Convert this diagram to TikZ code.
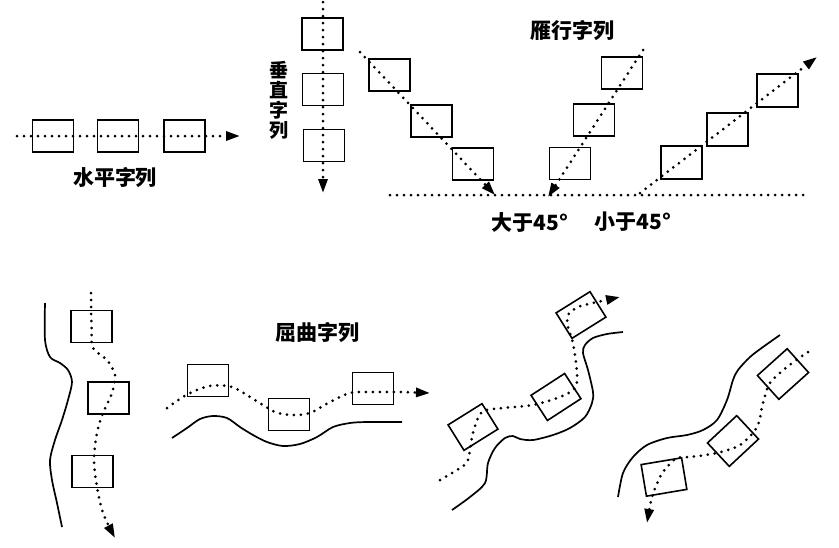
\documentclass[tikz,border=0pt]{standalone}
\usepackage{fontspec}
\newfontfamily\cjk{Noto Sans CJK SC}
\usetikzlibrary{arrows.meta}

\begin{document}
\begin{tikzpicture}[x=1pt, y=-1pt,
    box/.style={draw, line width=1.6pt, minimum width=41pt, minimum height=32pt, inner sep=0pt},
    tiltbox/.style={box, minimum width=40pt, minimum height=30pt},
    dotline/.style={line width=3pt, dash pattern=on 0pt off 7pt, line cap=round},
    pointy/.style={-{Triangle[length=14pt, width=9pt]}},
    bank/.style={line width=1.7pt},
    lbl/.style={font=\cjk\bfseries\fontsize{21}{23}\selectfont, inner sep=0pt},
  ]
  \useasboundingbox (0,0) rectangle (839,547);

  % horizontal row
  \node[box] (h1) at (53,136) {};
  \node[box] (h2) at (118,136) {};
  \node[box] (h3) at (184.5,136) {};
  \coordinate (h0) at (17,136);
  \coordinate (hend) at (240,136);
  \draw[dotline, pointy] (h0) -- (hend);
  \node[lbl] (hlabel) at (115,178) {水平字列};

  % vertical row
  \node[box] (v1) at (322.5,34) {};
  \node[box] (v2) at (323,89.5) {};
  \node[box] (v3) at (324,145.5) {};
  \coordinate (v0) at (323,2);
  \coordinate (vend) at (323,193);
  \draw[dotline, pointy] (v0) -- (vend);
  \node[lbl, align=center, font=\cjk\bfseries\fontsize{19}{20}\selectfont] (vlabel) at (279,100) {垂\\直\\字\\列};

  % echelon rows
  \node[lbl] (elabel) at (572,31) {雁行字列};
  \coordinate (base0) at (390,195);
  \coordinate (base1) at (805,195);
  \draw[dotline] (base0) -- (base1);

  \node[box] (a1) at (389.5,75) {};
  \node[box] (a2) at (431.5,121) {};
  \node[box] (a3) at (473,164) {};
  \coordinate (a0) at (360,52);
  \coordinate (aend) at (495,195);
  \draw[dotline, pointy] (a0) -- (aend);

  \node[box] (b1) at (622,73) {};
  \node[box] (b2) at (594,120) {};
  \node[box] (b3) at (570,163.5) {};
  \coordinate (b0) at (643,50);
  \coordinate (bend) at (548,197);
  \draw[dotline, pointy] (b0) -- (bend);

  \node[box, minimum height=33pt] (c1) at (681.5,162.5) {};
  \node[box, minimum height=33pt] (c2) at (727.5,129.5) {};
  \node[box, minimum height=33pt] (c3) at (777.5,90.5) {};
  \coordinate (c0) at (640,193);
  \coordinate (cend) at (817,57);
  \draw[dotline, pointy] (c0) -- (cend);

  \node[lbl] (big) at (530,222) {大于45°};
  \node[lbl] (small) at (633,222) {小于45°};

  % bent rows
  \node[lbl] (blabel) at (317,333) {屈曲字列};

  \node[box] (cb1) at (91.5,326.5) {};
  \node[box] (cb2) at (108.5,398) {};
  \node[box] (cb3) at (92.5,471.5) {};
  \draw[bank] plot[smooth] coordinates {(45,303) (45,340) (50,357) (60,363) (68,370) (72,382) (68,400) (62,420) (55,440) (50,460) (52,480) (57,503) (62,527)};
  \draw[dotline, pointy] plot[smooth] coordinates {(91,293) (cb1.center) (93,348) (107,360) (115,375) (112,393) (103,413) (97,433) (94,460) (97,487) (103,513) (115,538)};

  \node[box] (hb1) at (208,380.5) {};
  \node[box] (hb2) at (289,414.5) {};
  \node[box] (hb3) at (373,388.5) {};
  \draw[bank] plot[smooth] coordinates {(172,438) (187,428) (200,419) (213,416) (227,418) (240,427) (253,435) (267,442) (283,446) (300,444) (317,437) (333,427) (350,423) (367,422) (402,422)};
  \draw[dotline, pointy] plot[smooth] coordinates {(167,408) (188,394) (210,386) (232,387) (255,400) (275,412) (293,415) (310,413) (330,402) (350,393) (373,392) (400,392) (430,393)};

  \node[tiltbox, rotate=32] (rb1) at (473,427) {};
  \node[tiltbox, rotate=33] (rb2) at (556,397) {};
  \node[tiltbox, rotate=32] (rb3) at (581,315) {};
  \draw[bank] plot[smooth] coordinates {(452,510) (470,497) (485,483) (488,463) (495,448) (505,438) (513,436) (520,439) (533,440) (553,435) (570,428) (585,417) (592,403) (593,392) (588,370) (583,353) (585,345) (593,338) (607,334) (623,332)};
  \draw[dotline, pointy] plot[smooth] coordinates {(440,480) (460,468) (468,460) (473,433) (482,412) (503,408) (533,405) (560,397) (575,388) (577,373) (573,343) (568,327) (568,315) (578,307) (593,303) (620,297)};

  \node[box, rotate=9.5] (sb1) at (664,477) {};
  \node[box, rotate=43, minimum width=40pt] (sb2) at (733,441) {};
  \node[box, rotate=42, minimum width=40pt] (sb3) at (783,374) {};
  \draw[bank] plot[smooth] coordinates {(780,335) (763,347) (750,357) (738,370) (733,380) (727,400) (717,420) (703,430) (687,435) (667,438) (647,445) (633,457) (623,473) (618,497)};
  \draw[dotline, pointy] plot[smooth] coordinates {(808,352) (787,367) (770,383) (763,403) (757,427) (740,445) (717,453) (690,457) (677,458) (667,467) (660,477) (652,497) (647,523)};
\end{tikzpicture}
\end{document}
